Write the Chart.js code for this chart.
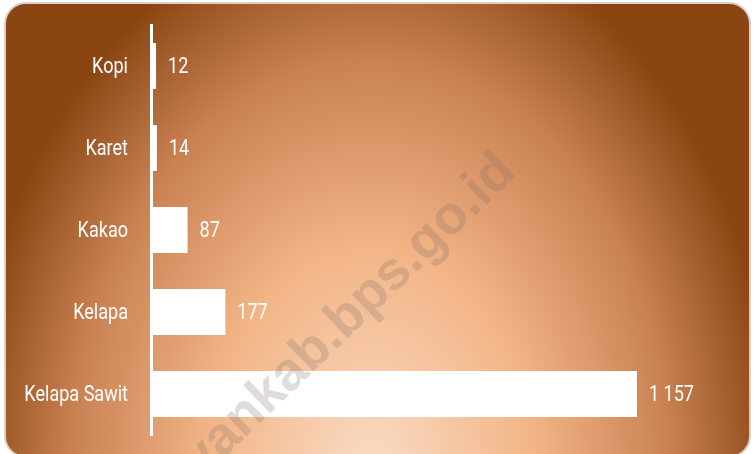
<!DOCTYPE html>
<html>
<head>
<meta charset="utf-8">
<script src="https://cdn.jsdelivr.net/npm/chart.js@4.4.1/dist/chart.umd.min.js"></script>
<style>
  html, body { margin: 0; padding: 0; background: #fff; }
  #wrap { position: relative; width: 754px; height: 454px; overflow: hidden; }
  #panel {
    position: absolute; left: 4px; top: 2px; width: 743px; height: 452px;
    border: 2px solid #d8d0c9; border-radius: 22px;
    background: radial-gradient(ellipse 405px 560px at 365px 470px,
      #f9dcc6 0%, #f3b587 40%, #c98152 74%, #8b4513 100%);
  }
  #chart { position: absolute; left: 0; top: 0; }
</style>
</head>
<body>
<div id="wrap">
  <div id="panel"></div>
  <canvas id="chart" width="754" height="454"></canvas>
</div>
<script>
const categories = ['Kopi', 'Karet', 'Kakao', 'Kelapa', 'Kelapa Sawit'];
const production = [12, 14, 87, 177, 1157];
const axisMax = 1400;
const watermark = 'seruyankab.bps.go.id';

const FONT = '22px Roboto, "DejaVu Sans Condensed", sans-serif';
const SQUEEZE = 0.82; // narrow the lettering horizontally

function narrowText(ctx, txt, x, y, align) {
  ctx.save();
  ctx.translate(x, y);
  ctx.scale(SQUEEZE, 1);
  ctx.textAlign = align;
  ctx.fillText(txt, 0, 0);
  ctx.restore();
}

// category names left of the axis and values past each bar end
const barText = {
  id: 'barText',
  afterDatasetsDraw(chart) {
    const ctx = chart.ctx;
    const yScale = chart.scales.y;
    const meta = chart.getDatasetMeta(0);
    ctx.save();
    ctx.font = FONT;
    ctx.fillStyle = '#ffffff';
    ctx.textBaseline = 'middle';
    yScale.ticks.forEach((t, i) => {
      const y = yScale.getPixelForTick(i);
      narrowText(ctx, yScale.getLabelForValue(t.value), yScale.right - 23, y + 1, 'right');
    });
    meta.data.forEach((bar, i) => {
      const txt = production[i].toLocaleString('en-US').replace(/,/g, ' ');
      narrowText(ctx, txt, bar.x + 12, bar.y + 1, 'left');
    });
    ctx.restore();
  }
};

// diagonal site watermark over everything
const stamp = {
  id: 'stamp',
  afterDraw(chart) {
    const ctx = chart.ctx;
    ctx.save();
    ctx.font = 'bold 54px "Liberation Sans", Arial, sans-serif';
    ctx.fillStyle = 'rgba(120,110,105,0.24)';
    ctx.textBaseline = 'alphabetic';
    const pre = 'seruyankab.bps';
    const off = ctx.measureText(pre).width + ctx.measureText('.').width / 2;
    ctx.translate(417, 266);
    ctx.rotate(-44 * Math.PI / 180);
    ctx.fillText(watermark, -off, 4);
    ctx.restore();
  }
};

new Chart(document.getElementById('chart'), {
  type: 'bar',
  data: {
    labels: categories,
    datasets: [{
      data: production,
      backgroundColor: '#ffffff',
      borderWidth: 0,
      categoryPercentage: 1,
      barPercentage: 0.56
    }]
  },
  options: {
    indexAxis: 'y',
    responsive: false,
    animation: false,
    devicePixelRatio: 1,
    layout: { padding: { top: 25, bottom: 19, left: 0, right: 15 } },
    plugins: { legend: { display: false }, tooltip: { enabled: false } },
    scales: {
      x: { display: false, min: 0, max: axisMax },
      y: {
        afterFit(scale) { scale.width = 151; },
        grid: { display: false },
        border: { display: true, color: '#ffffff', width: 3 },
        ticks: { display: false }
      }
    }
  },
  plugins: [barText, stamp]
});
</script>
</body>
</html>
